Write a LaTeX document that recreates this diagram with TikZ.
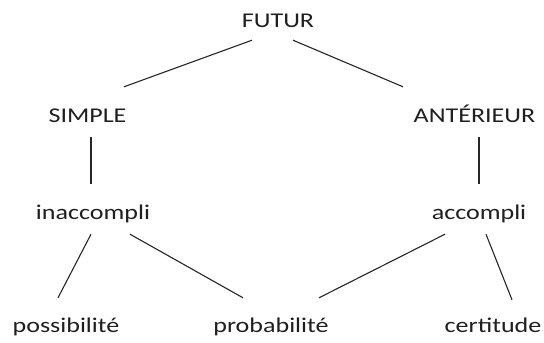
\documentclass[tikz,border=0pt]{standalone}
\usepackage{fontspec}
\newfontfamily\diagfont[FakeStretch=1.24]{Carlito}
\begin{document}
\begin{tikzpicture}[x=1pt,y=-1pt,
  lbl/.style={font=\diagfont\fontsize{21}{24}\selectfont, text=black!88,
    anchor=base, inner sep=0pt, text height=35pt, text depth=13pt},
  link/.style={line width=1.1pt, draw=black!85}]
\useasboundingbox[fill=white] (0,0) rectangle (544,343);
\node[lbl] (futur) at (278,27) {FUTUR};
\node[lbl] (simple) at (87.5,122) {SIMPLE};
\node[lbl] (ant) at (474.5,122) {ANTÉRIEUR};
\node[lbl] (inacc) at (93,219) {inaccompli};
\node[lbl] (acc) at (479,219) {accompli};
\node[lbl] (poss) at (66,332) {possibilité};
\node[lbl] (prob) at (271,332) {probabilité};
\node[lbl] (cert) at (493,332) {certitude};
\draw[link] ([xshift=-26pt]futur.south) -- ([xshift=36.5pt]simple.north);
\draw[link] ([xshift=15pt]futur.south) -- ([xshift=-71.5pt]ant.north);
\draw[link] ([xshift=3.5pt,yshift=-2pt]simple.south) -- ([xshift=-2pt]inacc.north);
\draw[link] ([xshift=4.5pt,yshift=-2pt]ant.south) -- (acc.north);
\draw[link] ([xshift=-2pt,yshift=-2pt]inacc.south) -- ([xshift=-8pt,yshift=-1pt]poss.north);
\draw[link] ([xshift=37pt,yshift=-2pt]inacc.south) -- ([xshift=-28pt,yshift=-1pt]prob.north);
\draw[link] ([xshift=-34pt,yshift=-2pt]acc.south) -- ([xshift=48pt,yshift=-1pt]prob.north);
\draw[link] ([xshift=7pt,yshift=-2pt]acc.south) -- ([xshift=19pt,yshift=-3pt]cert.north);
\end{tikzpicture}
\end{document}
